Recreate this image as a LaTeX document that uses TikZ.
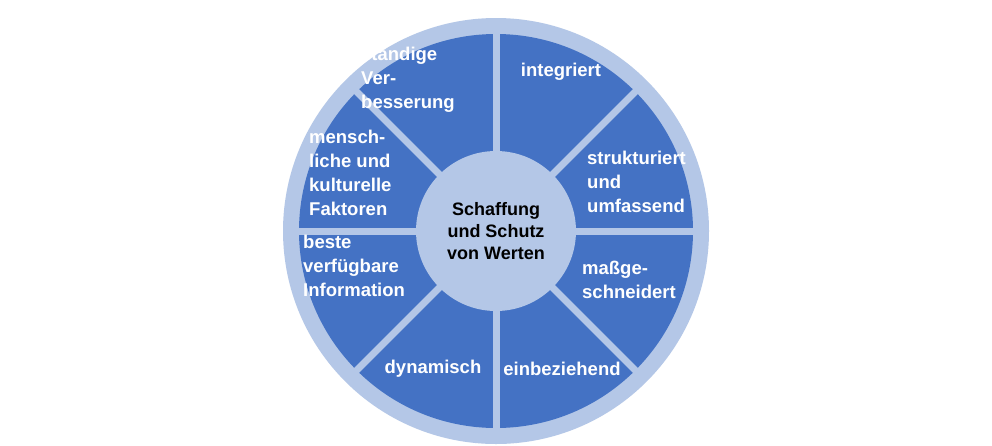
\documentclass[tikz,border=0pt]{standalone}
\usepackage{fontspec}
\usetikzlibrary{calc}
\setmainfont{Liberation Sans}
\definecolor{lightb}{HTML}{B4C7E7}
\definecolor{darkb}{HTML}{4472C4}
\begin{document}
\begin{tikzpicture}[x=1pt,y=-1pt,
  lab/.style={text=white,font=\fontsize{18.5}{24}\selectfont\bfseries,align=left,inner sep=0},
  clab/.style={text=black,font=\fontsize{18}{22}\selectfont\bfseries,align=center,inner sep=0}]
\useasboundingbox[fill=white] (0,0) rectangle (992,445);
\coordinate (c) at (496,231);
\fill[lightb] (c) circle (213);
\fill[darkb] (c) circle (197);
\foreach \a in {0,45,90,135}
  \draw[lightb,line width=7pt] ($(c)+(\a:200)$) -- ($(c)+(\a+180:200)$);
\fill[lightb] (c) circle (80);
\node[clab] (m) at (c) {Schaffung\\und Schutz\\von Werten};
\node[lab,anchor=west] (s1) at (361,80) {ständige\\Ver-\\besserung};
\node[lab] (s2) at (561,72) {integriert};
\node[lab,anchor=west] (s3) at (309,173) {mensch-\\liche und\\kulturelle\\Faktoren};
\node[lab,anchor=west] (s4) at (587,182) {strukturiert\\und\\umfassend};
\node[lab,anchor=west] (s5) at (303,266) {beste\\verfügbare\\Information};
\node[lab,anchor=west] (s6) at (582,280) {maßge-\\schneidert};
\node[lab] (s7) at (433,369) {dynamisch};
\node[lab] (s8) at (562,369) {einbeziehend};
\end{tikzpicture}
\end{document}
